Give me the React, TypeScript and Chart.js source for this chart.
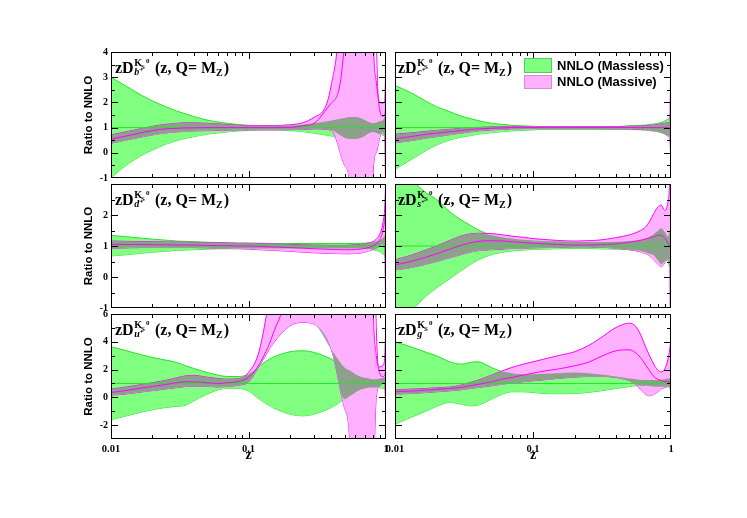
import React, { useEffect, useRef } from "react";
import { Chart, registerables } from "chart.js";

Chart.register(...registerables);

const W = 747;
const H = 518;

// shared z grid
const Z = [0.01, 0.013, 0.017, 0.02, 0.025, 0.03, 0.035, 0.04, 0.05, 0.06, 0.07, 0.085, 0.1, 0.12, 0.15, 0.2, 0.25, 0.3, 0.4, 0.5, 0.55, 0.6, 0.65, 0.7, 0.75, 0.8, 0.85, 0.9, 0.95, 0.98, 1.0];

// b quark
const B_G_HI = [3.0, 2.63, 2.26, 2.06, 1.83, 1.66, 1.54, 1.44, 1.30, 1.22, 1.17, 1.12, 1.09, 1.08, 1.08, 1.08, 1.12, 1.17, 1.28, 1.38, 1.42, 1.42, 1.38, 1.30, 1.22, 1.17, 1.20, 1.25, 1.30, 1.44, 1.63];
const B_G_LO = [-1.0, -0.48, -0.08, 0.11, 0.34, 0.48, 0.58, 0.64, 0.74, 0.79, 0.83, 0.87, 0.89, 0.91, 0.91, 0.88, 0.84, 0.78, 0.67, 0.59, 0.55, 0.55, 0.59, 0.67, 0.78, 0.83, 0.79, 0.74, 0.70, 0.64, 0.50];
const B_M_HI = [0.71, 0.84, 0.97, 1.05, 1.13, 1.17, 1.19, 1.19, 1.17, 1.15, 1.12, 1.09, 1.08, 1.07, 1.08, 1.11, 1.20, 1.41, 2.70, 12, 30, 30, 30, 30, 30, 6.0, 2.8, 2.0, 1.97, 2.1, 4.0];
const B_M_MID = [0.54, 0.67, 0.81, 0.88, 0.95, 0.97, 0.99, 0.99, 1.0, 1.0, 1.0, 1.0, 1.0, 1.0, 1.0, 1.01, 1.07, 1.17, 1.97, 4.5, 20, 20, 20, 20, 20, 20, 5.0, 1.7, 1.45, 1.5, 2.0];
const B_M_LO = [0.38, 0.51, 0.64, 0.71, 0.79, 0.83, 0.85, 0.87, 0.88, 0.89, 0.90, 0.91, 0.91, 0.91, 0.91, 0.92, 0.93, 0.95, 0.90, -0.5, -1.5, -10, -30, -30, -30, -1.2, 0.0, 0.6, 0.85, 0.5, -3.0];

// c quark
const C_G_HI = [2.67, 2.39, 2.03, 1.83, 1.63, 1.46, 1.36, 1.28, 1.17, 1.13, 1.09, 1.07, 1.05, 1.04, 1.04, 1.04, 1.04, 1.04, 1.04, 1.07, 1.08, 1.09, 1.10, 1.12, 1.14, 1.17, 1.20, 1.26, 1.34, 1.41, 1.54];
const C_G_LO = [-0.65, -0.28, 0.11, 0.31, 0.51, 0.62, 0.68, 0.74, 0.80, 0.84, 0.87, 0.89, 0.91, 0.93, 0.93, 0.93, 0.93, 0.93, 0.93, 0.92, 0.92, 0.91, 0.90, 0.88, 0.86, 0.84, 0.80, 0.75, 0.68, 0.62, 0.51];
const C_M_HI = [0.74, 0.79, 0.85, 0.89, 0.93, 0.97, 1.0, 1.01, 1.03, 1.04, 1.04, 1.04, 1.04, 1.04, 1.04, 1.04, 1.04, 1.04, 1.04, 1.05, 1.05, 1.06, 1.07, 1.09, 1.10, 1.12, 1.15, 1.17, 1.20, 1.24, 5.0];
const C_M_MID = [0.56, 0.64, 0.74, 0.78, 0.84, 0.88, 0.92, 0.95, 0.97, 0.99, 1.0, 1.0, 1.0, 1.0, 1.0, 1.0, 1.0, 1.0, 1.0, 1.0, 1.0, 1.0, 1.0, 1.0, 1.0, 1.0, 1.0, 1.0, 1.0, 1.0, 1.0];
const C_M_LO = [0.40, 0.48, 0.59, 0.64, 0.72, 0.78, 0.83, 0.87, 0.91, 0.93, 0.95, 0.96, 0.96, 0.96, 0.96, 0.96, 0.96, 0.96, 0.95, 0.95, 0.94, 0.93, 0.92, 0.91, 0.89, 0.86, 0.82, 0.76, 0.66, 0.56, -0.5];

// d quark
const D_G_HI = [1.34, 1.30, 1.25, 1.22, 1.19, 1.16, 1.15, 1.14, 1.12, 1.11, 1.10, 1.09, 1.09, 1.09, 1.08, 1.08, 1.08, 1.08, 1.08, 1.08, 1.08, 1.08, 1.09, 1.09, 1.10, 1.12, 1.15, 1.19, 1.27, 1.35, 1.48];
const D_G_LO = [0.68, 0.72, 0.77, 0.80, 0.83, 0.86, 0.87, 0.88, 0.90, 0.91, 0.91, 0.92, 0.92, 0.92, 0.92, 0.92, 0.92, 0.92, 0.92, 0.92, 0.92, 0.92, 0.92, 0.91, 0.90, 0.88, 0.86, 0.82, 0.75, 0.68, 0.57];
const D_M_HI = [1.16, 1.15, 1.14, 1.14, 1.13, 1.13, 1.12, 1.12, 1.11, 1.10, 1.10, 1.09, 1.09, 1.08, 1.07, 1.05, 1.04, 1.03, 1.02, 1.02, 1.03, 1.04, 1.05, 1.07, 1.10, 1.14, 1.22, 1.38, 1.75, 2.3, 3.5];
const D_M_MID = [1.05, 1.05, 1.05, 1.04, 1.04, 1.03, 1.03, 1.03, 1.02, 1.01, 1.01, 1.00, 1.00, 0.99, 0.97, 0.95, 0.93, 0.91, 0.89, 0.88, 0.88, 0.89, 0.90, 0.92, 0.95, 1.0, 1.07, 1.2, 1.5, 1.9, 2.5];
const D_M_LO = [0.93, 0.94, 0.95, 0.95, 0.95, 0.95, 0.95, 0.95, 0.94, 0.93, 0.92, 0.91, 0.90, 0.88, 0.86, 0.83, 0.80, 0.78, 0.76, 0.75, 0.75, 0.76, 0.77, 0.80, 0.84, 0.88, 0.93, 1.0, 1.1, 0.8, -2.0];

// s quark
const S_G_HI = [3.6, 3.15, 2.7, 2.5, 2.1, 1.85, 1.67, 1.52, 1.35, 1.28, 1.24, 1.20, 1.18, 1.16, 1.15, 1.14, 1.13, 1.13, 1.14, 1.16, 1.18, 1.20, 1.24, 1.30, 1.38, 1.48, 1.57, 1.45, 1.30, 1.50, 1.60];
const S_G_LO = [-1.6, -1.1, -0.6, -0.35, -0.05, 0.2, 0.4, 0.55, 0.72, 0.80, 0.84, 0.87, 0.89, 0.90, 0.91, 0.92, 0.92, 0.91, 0.90, 0.88, 0.86, 0.84, 0.80, 0.75, 0.70, 0.55, 0.42, 0.50, 0.55, 0.30, 0.60];
const S_M_HI = [0.55, 0.70, 0.88, 1.0, 1.18, 1.32, 1.39, 1.41, 1.40, 1.36, 1.32, 1.28, 1.24, 1.21, 1.18, 1.16, 1.17, 1.19, 1.27, 1.36, 1.42, 1.50, 1.60, 1.80, 2.05, 2.25, 2.32, 2.15, 2.40, 3.5, 8.0];
const S_M_MID = [0.39, 0.50, 0.65, 0.75, 0.90, 1.02, 1.10, 1.15, 1.17, 1.16, 1.14, 1.11, 1.09, 1.07, 1.05, 1.03, 1.03, 1.04, 1.07, 1.12, 1.15, 1.18, 1.22, 1.26, 1.30, 1.34, 1.35, 1.25, 1.10, 1.0, 1.0];
const S_M_LO = [0.23, 0.30, 0.42, 0.50, 0.62, 0.72, 0.80, 0.85, 0.88, 0.90, 0.92, 0.93, 0.94, 0.95, 0.96, 0.97, 0.97, 0.96, 0.93, 0.88, 0.85, 0.81, 0.76, 0.68, 0.55, 0.42, 0.33, 0.45, 0.60, 0.30, -6.0];

// u quark
const U_G_HI = [3.64, 3.35, 3.04, 2.87, 2.68, 2.51, 2.27, 2.08, 1.79, 1.60, 1.50, 1.50, 1.67, 2.27, 2.87, 3.28, 3.35, 3.23, 2.75, 2.15, 1.91, 1.67, 1.50, 1.41, 1.36, 1.31, 1.31, 1.36, 1.40, 1.48, 1.60];
const U_G_LO = [-1.61, -1.33, -1.04, -0.89, -0.73, -0.65, -0.56, -0.25, 0.23, 0.54, 0.64, 0.64, 0.47, -0.13, -0.73, -1.21, -1.33, -1.21, -0.73, -0.13, 0.11, 0.35, 0.54, 0.64, 0.69, 0.71, 0.71, 0.69, 0.64, 0.59, 0.47];
const U_M_HI = [0.59, 0.75, 0.93, 1.05, 1.22, 1.40, 1.55, 1.58, 1.45, 1.35, 1.31, 1.35, 1.80, 3.40, 9.0, 20, 30, 30, 30, 30, 30, 30, 30, 30, 30, 8.0, 3.0, 2.2, 2.3, 3.0, 6.0];
const U_M_MID = [0.35, 0.50, 0.68, 0.78, 0.92, 1.05, 1.12, 1.12, 1.05, 1.00, 1.05, 1.15, 1.45, 2.40, 4.50, 9.0, 20, 20, 20, 20, 20, 20, 20, 20, 20, 20, 5.0, 1.7, 1.5, 1.6, 2.0];
const U_M_LO = [0.16, 0.25, 0.40, 0.48, 0.60, 0.70, 0.78, 0.80, 0.78, 0.75, 0.78, 0.88, 1.10, 2.27, 3.83, 5.15, 5.39, 5.27, 3.47, -0.8, -4.0, -30, -30, -30, -30, -10, 0.0, 0.8, 1.0, 0.9, -2.0];

// gluon
const G_G_HI = [4.0, 3.64, 3.23, 2.99, 2.56, 2.39, 2.51, 2.56, 2.15, 1.84, 1.74, 1.67, 1.67, 1.70, 1.74, 1.79, 1.74, 1.67, 1.50, 1.36, 1.31, 1.26, 1.24, 1.24, 1.24, 1.26, 1.29, 1.31, 1.36, 1.38, 1.43];
const G_G_LO = [-1.93, -1.45, -0.97, -0.65, -0.37, -0.49, -0.61, -0.56, -0.13, 0.23, 0.40, 0.40, 0.35, 0.28, 0.26, 0.28, 0.35, 0.45, 0.64, 0.78, 0.83, 0.83, 0.83, 0.81, 0.78, 0.76, 0.76, 0.76, 0.76, 0.76, 0.78];
const G_M_HI = [0.54, 0.59, 0.64, 0.69, 0.74, 0.88, 1.07, 1.24, 1.60, 1.91, 2.15, 2.39, 2.56, 2.75, 2.99, 3.28, 3.71, 4.19, 5.03, 5.34, 5.15, 4.55, 3.71, 2.99, 2.39, 1.98, 1.84, 2.03, 2.75, 3.47, 4.19];
const G_M_MID = [0.40, 0.45, 0.52, 0.57, 0.64, 0.71, 0.83, 0.93, 1.12, 1.31, 1.43, 1.60, 1.74, 1.89, 2.03, 2.27, 2.51, 2.87, 3.35, 3.42, 3.23, 2.87, 2.39, 1.91, 1.50, 1.31, 1.19, 1.14, 1.12, 1.10, 1.07];
const G_M_LO = [0.23, 0.28, 0.35, 0.40, 0.47, 0.54, 0.64, 0.71, 0.83, 0.95, 1.02, 1.12, 1.19, 1.26, 1.36, 1.46, 1.50, 1.50, 1.43, 1.19, 0.95, 0.59, 0.23, 0.11, 0.21, 0.40, 0.59, 0.71, 0.78, 0.75, 0.11];

const MASSLESS_CENTRE = 1;
const X_TICK_LABELS = ["0.01", "0.1", "1"];
const LEGEND_LABELS = ["NNLO (Massless)", "NNLO (Massive)"];

// styles
const SERIF = '"Liberation Serif", "DejaVu Serif", "Times New Roman", serif';
const SANS = '"Liberation Sans", Arial, Helvetica, sans-serif';
const GREEN_FILL = "rgb(128,255,128)";
const GREEN_LINE = "rgb(40,225,40)";
const PINK_FILL = "rgb(255,176,255)";
const MAGENTA = "rgb(255,0,255)";
const GRAY_FILL = "rgb(140,160,140)";

// layout
const COL_X = [[111, 386], [395, 671]];
const ROW_Y = [[52, 178], [184, 308], [314, 439]];
const ROW_RANGE = [
  { min: -1, max: 4, major: 1, minor: 0.5, labels: [-1, 0, 1, 2, 3, 4] },
  { min: -1, max: 3, major: 1, minor: 0.5, labels: [-1, 0, 1, 2] },
  { min: -3, max: 6, major: 2, minor: 1, labels: [-2, 0, 2, 4, 6] },
];

type PanelDef = {
  flavour: string; plus: boolean; row: number; col: number;
  gHi: number[]; gLo: number[]; mHi: number[]; mMid: number[]; mLo: number[];
};

const PANELS: PanelDef[] = [
  { flavour: "b", plus: true, row: 0, col: 0, gHi: B_G_HI, gLo: B_G_LO, mHi: B_M_HI, mMid: B_M_MID, mLo: B_M_LO },
  { flavour: "c", plus: true, row: 0, col: 1, gHi: C_G_HI, gLo: C_G_LO, mHi: C_M_HI, mMid: C_M_MID, mLo: C_M_LO },
  { flavour: "d", plus: true, row: 1, col: 0, gHi: D_G_HI, gLo: D_G_LO, mHi: D_M_HI, mMid: D_M_MID, mLo: D_M_LO },
  { flavour: "s", plus: true, row: 1, col: 1, gHi: S_G_HI, gLo: S_G_LO, mHi: S_M_HI, mMid: S_M_MID, mLo: S_M_LO },
  { flavour: "u", plus: true, row: 2, col: 0, gHi: U_G_HI, gLo: U_G_LO, mHi: U_M_HI, mMid: U_M_MID, mLo: U_M_LO },
  { flavour: "g", plus: false, row: 2, col: 1, gHi: G_G_HI, gLo: G_G_LO, mHi: G_M_HI, mMid: G_M_MID, mLo: G_M_LO },
];

function pts(arr: number[]) {
  return Z.map((z, i) => ({ x: z, y: arr[i] }));
}

function drawTitle(ctx: CanvasRenderingContext2D, x: number, y: number, flav: string, plus: boolean) {
  ctx.fillStyle = "#000";
  ctx.textAlign = "left";
  ctx.textBaseline = "alphabetic";
  ctx.font = `bold 16px ${SERIF}`;
  ctx.fillText("zD", x, y);
  const x1 = x + ctx.measureText("zD").width + 0.5;
  ctx.font = `bold 10px ${SERIF}`;
  ctx.fillText("K", x1, y - 7);
  const kw = ctx.measureText("K").width;
  ctx.font = `bold 7px ${SERIF}`;
  ctx.fillText("S", x1 + kw - 1, y - 4);
  ctx.fillText("0", x1 + kw + 4, y - 10);
  ctx.font = `italic bold 10px ${SERIF}`;
  ctx.fillText(flav, x1, y + 2);
  if (plus) {
    const fw = ctx.measureText(flav).width;
    ctx.font = `bold 7px ${SERIF}`;
    ctx.fillText("+", x1 + fw, y - 1);
  }
  ctx.font = `bold 16px ${SERIF}`;
  const x2 = x + 40;
  const main = "(z, Q= M";
  ctx.fillText(main, x2, y);
  const w2 = ctx.measureText(main).width;
  ctx.font = `bold 10px ${SERIF}`;
  ctx.fillText("Z", x2 + w2, y + 3);
  const wz = ctx.measureText("Z").width;
  ctx.font = `bold 16px ${SERIF}`;
  ctx.fillText(")", x2 + w2 + wz + 1, y);
}

function decorPlugin(p: PanelDef) {
  return {
    id: "decor",
    afterDraw(chart: any) {
      const ctx: CanvasRenderingContext2D = chart.ctx;
      const { left, right, top, bottom } = chart.chartArea;
      const xs = chart.scales.x;
      const ys = chart.scales.y;
      const rr = ROW_RANGE[p.row];
      ctx.save();
      ctx.strokeStyle = "#000";
      ctx.lineWidth = 1;
      ctx.beginPath();
      for (const dec of [0.01, 0.1]) {
        for (let m = 1; m <= 9; m++) {
          if (m === 1 && dec === 0.01) continue;
          const x = Math.round(xs.getPixelForValue(dec * m)) + 0.5;
          const len = m === 1 ? 7 : 4;
          ctx.moveTo(x, bottom);
          ctx.lineTo(x, bottom - len);
          ctx.moveTo(x, top);
          ctx.lineTo(x, top + len);
        }
      }
      const n = Math.round((rr.max - rr.min) / rr.minor);
      for (let i = 1; i < n; i++) {
        const v = rr.min + i * rr.minor;
        const isMajor = Math.abs(v / rr.major - Math.round(v / rr.major)) < 1e-6;
        const y = Math.round(ys.getPixelForValue(v)) + 0.5;
        const len = isMajor ? 7 : 4;
        ctx.moveTo(left, y);
        ctx.lineTo(left + len, y);
        ctx.moveTo(right, y);
        ctx.lineTo(right - len, y);
      }
      ctx.stroke();
      ctx.strokeRect(left + 0.5, top + 0.5, right - left - 1, bottom - top - 1);

      ctx.fillStyle = "#000";
      if (p.col === 0) {
        ctx.font = `bold 10px ${SERIF}`;
        ctx.textAlign = "right";
        ctx.textBaseline = "middle";
        for (const v of rr.labels) {
          ctx.fillText(v < 0 ? `-${Math.abs(v)}` : String(v), left - 3, ys.getPixelForValue(v));
        }
        ctx.save();
        ctx.translate(89, (top + bottom) / 2);
        ctx.rotate(-Math.PI / 2);
        ctx.font = `bold 11.5px ${SANS}`;
        ctx.textAlign = "center";
        ctx.textBaseline = "middle";
        ctx.fillText("Ratio to NNLO", 0, 0);
        ctx.restore();
      }
      if (p.row === 2) {
        ctx.font = `bold 10.5px ${SERIF}`;
        ctx.textAlign = "center";
        ctx.textBaseline = "alphabetic";
        X_TICK_LABELS.forEach((t) => {
          ctx.fillText(t, xs.getPixelForValue(parseFloat(t)), bottom + 13);
        });
        ctx.font = `bold 14px ${SERIF}`;
        ctx.fillText("z", xs.getPixelForValue(0.1), bottom + 20);
      }
      drawTitle(ctx, left + (p.col === 0 ? 4 : 3), top + 21, p.flavour, p.plus);

      if (p.row === 0 && p.col === 1) {
        const lx = left + 129;
        const ly = top + 6;
        ctx.fillStyle = GREEN_FILL;
        ctx.fillRect(lx, ly, 28, 15);
        ctx.strokeStyle = "rgb(90,200,90)";
        ctx.strokeRect(lx + 0.5, ly + 0.5, 27, 14);
        ctx.fillStyle = PINK_FILL;
        ctx.fillRect(lx, ly + 17, 28, 14);
        ctx.strokeStyle = "rgb(215,140,215)";
        ctx.strokeRect(lx + 0.5, ly + 17.5, 27, 13);
        ctx.fillStyle = "#000";
        ctx.font = `bold 13px ${SANS}`;
        ctx.textAlign = "left";
        ctx.textBaseline = "middle";
        ctx.fillText(LEGEND_LABELS[0], lx + 33, ly + 8);
        ctx.fillText(LEGEND_LABELS[1], lx + 33, ly + 24);
      }
      ctx.restore();
    },
  };
}

function Panel({ p }: { p: PanelDef }) {
  const ref = useRef<HTMLCanvasElement>(null);
  useEffect(() => {
    if (!ref.current) return;
    const [l, r] = COL_X[p.col];
    const [t, b] = ROW_Y[p.row];
    const rr = ROW_RANGE[p.row];
    const grayHi: number[] = [];
    const grayLo: number[] = [];
    Z.forEach((_, i) => {
      const lo = Math.max(p.gLo[i], p.mLo[i]);
      const hi = Math.min(p.gHi[i], p.mHi[i]);
      grayLo.push(lo);
      grayHi.push(hi < lo ? lo : hi);
    });
    const base = { pointRadius: 0, borderWidth: 1, cubicInterpolationMode: "monotone" as const };
    const chart = new Chart(ref.current, {
      type: "line",
      data: {
        datasets: [
          { ...base, data: pts(p.gHi), borderColor: GREEN_LINE, backgroundColor: GREEN_FILL, fill: "+1", order: 30 },
          { ...base, data: pts(p.gLo), borderColor: GREEN_LINE, fill: false, order: 30 },
          { ...base, data: pts(p.mHi), borderColor: MAGENTA, backgroundColor: PINK_FILL, fill: "+1", order: 20 },
          { ...base, data: pts(p.mLo), borderColor: MAGENTA, fill: false, order: 20 },
          { ...base, data: pts(grayHi), borderWidth: 0, borderColor: "rgba(0,0,0,0)", backgroundColor: GRAY_FILL, fill: "+1", order: 10 },
          { ...base, data: pts(grayLo), borderWidth: 0, borderColor: "rgba(0,0,0,0)", fill: false, order: 10 },
          { ...base, data: Z.map((z) => ({ x: z, y: MASSLESS_CENTRE })), borderColor: GREEN_LINE, fill: false, order: 5 },
          { ...base, data: pts(p.mMid), borderColor: MAGENTA, fill: false, order: 0 },
        ],
      },
      options: {
        responsive: false,
        animation: false,
        devicePixelRatio: 1,
        events: [],
        layout: { padding: { left: l, top: t, right: W - r, bottom: H - b } },
        scales: {
          x: { type: "logarithmic", min: 0.01, max: 1, display: false },
          y: { type: "linear", min: rr.min, max: rr.max, display: false },
        },
        plugins: { legend: { display: false }, tooltip: { enabled: false } },
      },
      plugins: [decorPlugin(p)],
    } as any);
    return () => chart.destroy();
  }, [p]);
  return (
    <canvas
      ref={ref}
      width={W}
      height={H}
      style={{ position: "absolute", left: 0, top: 0, width: W, height: H }}
    />
  );
}

export default function App() {
  return (
    <div style={{ position: "absolute", left: 0, top: 0, width: W, height: H, background: "#fff" }}>
      {PANELS.map((p) => (
        <Panel key={p.flavour} p={p} />
      ))}
    </div>
  );
}
